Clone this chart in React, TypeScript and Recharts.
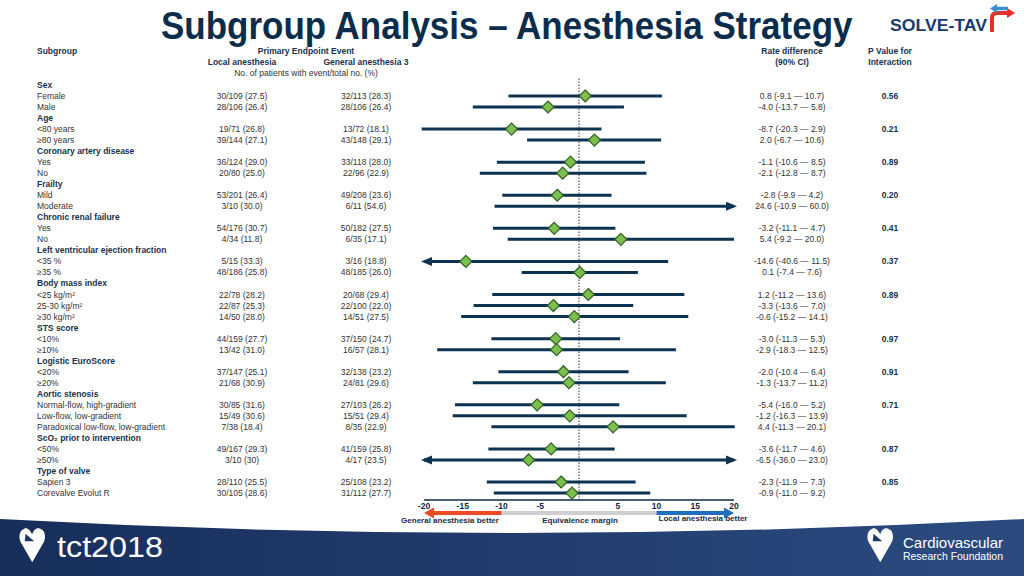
import React from "react";
import { ComposedChart, XAxis, YAxis, Scatter, ReferenceLine } from "recharts";

const FONT = "'Liberation Sans', Arial, Helvetica, sans-serif";
const NAVY = "#0c3352";
const TEXT = "#333333";
const HEAD = "#17324f";

// plot frame (chart margins are built from this)
const PLOT = { left: 424, right: 734, top: 78, bottom: 500 };
const X_DOMAIN: [number, number] = [-20, 20];
const Y_DOMAIN: [number, number] = [-0.63, 37.63];
const xTicks = [-20, -15, -10, -5, 5, 10, 15, 20];
// CIs only get an arrow when they run clearly past the axis
const ARROW_TOL = 1;

const rowLabels = [
  "Sex", "Female", "Male",
  "Age", "<80 years", "≥80 years",
  "Coronary artery disease", "Yes", "No",
  "Frailty", "Mild", "Moderate",
  "Chronic renal failure", "Yes", "No",
  "Left ventricular ejection fraction", "<35 %", "≥35 %",
  "Body mass index", "<25 kg/m²", "25-30 kg/m²", "≥30 kg/m²",
  "STS score", "<10%", "≥10%",
  "Logistic EuroScore", "<20%", "≥20%",
  "Aortic stenosis", "Normal-flow, high-gradient", "Low-flow, low-gradient", "Paradoxical low-flow, low-gradient",
  "ScO₂ prior to intervention", "<50%", "≥50%",
  "Type of valve", "Sapien 3", "Corevalve Evolut R",
];
const headerRows = [0, 3, 6, 9, 12, 15, 18, 22, 25, 28, 32, 35];
const pValues = ["0.56", "0.21", "0.89", "0.20", "0.41", "0.37", "0.89", "0.97", "0.91", "0.71", "0.87", "0.85"];

const localEvents = [
  "30/109 (27.5)", "28/106 (26.4)", "19/71 (26.8)", "39/144 (27.1)", "36/124 (29.0)", "20/80 (25.0)",
  "53/201 (26.4)", "3/10 (30.0)", "54/176 (30.7)", "4/34 (11.8)", "5/15 (33.3)", "48/186 (25.8)",
  "22/78 (28.2)", "22/87 (25.3)", "14/50 (28.0)", "44/159 (27.7)", "13/42 (31.0)", "37/147 (25.1)",
  "21/68 (30.9)", "30/85 (31.6)", "15/49 (30.6)", "7/38 (18.4)", "49/167 (29.3)", "3/10 (30)",
  "28/110 (25.5)", "30/105 (28.6)",
];
const generalEvents = [
  "32/113 (28.3)", "28/106 (26.4)", "13/72 (18.1)", "43/148 (29.1)", "33/118 (28.0)", "22/96 (22.9)",
  "49/208 (23.6)", "6/11 (54.6)", "50/182 (27.5)", "6/35 (17.1)", "3/16 (18.8)", "48/185 (26.0)",
  "20/68 (29.4)", "22/100 (22.0)", "14/51 (27.5)", "37/150 (24.7)", "16/57 (28.1)", "32/138 (23.2)",
  "24/81 (29.6)", "27/103 (26.2)", "15/51 (29.4)", "8/35 (22.9)", "41/159 (25.8)", "4/17 (23.5)",
  "25/108 (23.2)", "31/112 (27.7)",
];
const rateDiff = [0.8, -4.0, -8.7, 2.0, -1.1, -2.1, -2.8, 24.6, -3.2, 5.4, -14.6, 0.1, 1.2, -3.3, -0.6, -3.0, -2.9, -2.0, -1.3, -5.4, -1.2, 4.4, -3.6, -6.5, -2.3, -0.9];
const ciLower = [-9.1, -13.7, -20.3, -6.7, -10.6, -12.8, -9.9, -10.9, -11.1, -9.2, -40.6, -7.4, -11.2, -13.6, -15.2, -11.3, -18.3, -10.4, -13.7, -16.0, -16.3, -11.3, -11.7, -36.0, -11.9, -11.0];
const ciUpper = [10.7, 5.8, 2.9, 10.6, 8.5, 8.7, 4.2, 60.0, 4.7, 20.0, 11.5, 7.6, 13.6, 7.0, 14.1, 5.3, 12.5, 6.4, 11.2, 5.2, 13.9, 20.1, 4.6, 23.0, 7.3, 9.2];

const dataRows = rowLabels.map((_, i) => i).filter((i) => !headerRows.includes(i));
const fmt = (v: number) => v.toFixed(1);
const lowOver = (v: number) => v < X_DOMAIN[0] - ARROW_TOL;
const highOver = (v: number) => v > X_DOMAIN[1] + ARROW_TOL;
const segLo = (v: number) => (lowOver(v) ? X_DOMAIN[0] : v);
const segHi = (v: number) => (highOver(v) ? X_DOMAIN[1] : v);

const estimates = dataRows
  .map((row, k) => ({ x: rateDiff[k], y: row }))
  .filter((d) => d.x >= X_DOMAIN[0] && d.x <= X_DOMAIN[1]);
const overflowArrows = dataRows.flatMap((row, k) => {
  const out: { x: number; y: number; dir: number }[] = [];
  if (lowOver(ciLower[k])) out.push({ x: X_DOMAIN[0], y: row, dir: -1 });
  if (highOver(ciUpper[k])) out.push({ x: X_DOMAIN[1], y: row, dir: 1 });
  return out;
});

const yOf = (row: number) =>
  PLOT.top + ((row - Y_DOMAIN[0]) / (Y_DOMAIN[1] - Y_DOMAIN[0])) * (PLOT.bottom - PLOT.top);
const xOf = (v: number) =>
  PLOT.left + ((v - X_DOMAIN[0]) / (X_DOMAIN[1] - X_DOMAIN[0])) * (PLOT.right - PLOT.left);

const Diamond = (props: any) => {
  const { cx, cy } = props;
  const r = 6;
  return (
    <path
      d={`M${cx},${cy - r}L${cx + r},${cy}L${cx},${cy + r}L${cx - r},${cy}Z`}
      fill="#7dbf4e"
      stroke="#2d6222"
      strokeWidth={1.2}
    />
  );
};

const ArrowHead = (props: any) => {
  const { cx, cy, payload } = props;
  const d = payload.dir;
  const tip = cx + d * 3;
  const base = cx - d * 8;
  return <path d={`M${tip},${cy}L${base},${cy - 4.5}L${base},${cy + 4.5}Z`} fill={NAVY} />;
};

const HeartIcon = ({ x, y, s }: { x: number; y: number; s: number }) => (
  <g transform={`translate(${x},${y}) scale(${s})`}>
    <path d="M6,2C1,4 0,12 4,18L15,37L26,18C30,12 29,4 24,2C20,0 16,3 15,8C13,3 9,0 6,2Z" fill="#fff" />
    <path d="M8,7L17,15L7,15Z" fill="#1d3765" />
  </g>
);

export default function App() {
  const t = (x: number, y: number, s: string, o: any = {}) => (
    <text x={x} y={y} fontFamily={FONT} fontSize={8.5} fill={TEXT} dominantBaseline="central" {...o}>
      {s}
    </text>
  );

  return (
    <div style={{ position: "absolute", left: 0, top: 0, width: 1024, height: 576, background: "#fff" }}>
      <ComposedChart
        width={1024}
        height={576}
        margin={{ top: PLOT.top, right: 1024 - PLOT.right, bottom: 576 - PLOT.bottom - 20, left: PLOT.left }}
      >
        <XAxis
          type="number"
          dataKey="x"
          domain={X_DOMAIN}
          ticks={xTicks}
          interval={0}
          height={20}
          tickSize={0}
          tickMargin={3}
          tickLine={false}
          axisLine={{ stroke: "#0c2a45", strokeWidth: 1.5 }}
          tick={{ fill: "#0c2a45", fontSize: 8.5, fontWeight: "bold", fontFamily: FONT }}
        />
        <YAxis type="number" dataKey="y" domain={Y_DOMAIN} reversed hide width={0} />
        <ReferenceLine x={0} stroke="#333" strokeDasharray="1.5 1.5" strokeWidth={1} />
        {dataRows.map((row, k) => (
          <ReferenceLine
            key={row}
            segment={[
              { x: segLo(ciLower[k]), y: row },
              { x: segHi(ciUpper[k]), y: row },
            ]}
            stroke={NAVY}
            strokeWidth={3}
            ifOverflow="visible"
          />
        ))}
        <Scatter data={overflowArrows} shape={ArrowHead} isAnimationActive={false} />
        <Scatter data={estimates} shape={Diamond} isAnimationActive={false} />
      </ComposedChart>

      <svg
        width={1024}
        height={576}
        style={{ position: "absolute", left: 0, top: 0, pointerEvents: "none" }}
      >
        <defs>
          <linearGradient id="band" x1="0" x2="1" y1="0" y2="0">
            <stop offset="0" stopColor="#172e5a" />
            <stop offset="1" stopColor="#2b4b80" />
          </linearGradient>
        </defs>

        {/* bottom banner */}
        <path d="M0,519 Q512,547 1024,519 L1024,576 L0,576 Z" fill="url(#band)" />
        <HeartIcon x={18} y={527} s={0.95} />
        <text x={57} y={557} fontFamily={FONT} fontSize={29} fill="#fff" textLength={106} lengthAdjust="spacingAndGlyphs">
          tct2018
        </text>
        <HeartIcon x={866} y={527} s={0.95} />
        <text x={903} y={548} fontFamily={FONT} fontSize={15} fill="#fff" textLength={100} lengthAdjust="spacingAndGlyphs">
          Cardiovascular
        </text>
        <text x={903} y={560} fontFamily={FONT} fontSize={11} fill="#fff" textLength={100} lengthAdjust="spacingAndGlyphs">
          Research Foundation
        </text>

        {/* title and logo */}
        <g transform="translate(161,39) scale(1,1.09)">
          <text x={0} y={0} fontFamily={FONT} fontWeight="bold" fontSize={35} fill="#0b2d4c">
            Subgroup Analysis – Anesthesia Strategy
          </text>
        </g>
        <text x={890} y={31} fontFamily={FONT} fontWeight="bold" fontSize={17} fill="#1b3a6c" textLength={97} lengthAdjust="spacingAndGlyphs">
          SOLVE-TAV
        </text>
        <path d="M992,32 L992,18 Q992,13 997,13 L1008,13" stroke="#e2302b" strokeWidth={4} fill="none" />
        <path d="M1007,8 L1015,13 L1007,18 Z" fill="#e2302b" />
        <path d="M1008,8.5 L996,8.5" stroke="#3d8fd3" strokeWidth={3.5} fill="none" />
        <path d="M997,4 L990,8.5 L997,13 Z" fill="#3d8fd3" />

        {/* column headers */}
        {t(37, 51, "Subgroup", { fontWeight: "bold", fill: HEAD })}
        {t(306, 51, "Primary Endpoint Event", { fontWeight: "bold", fill: HEAD, textAnchor: "middle" })}
        {t(242, 62, "Local anesthesia", { fontWeight: "bold", fill: HEAD, textAnchor: "middle" })}
        {t(366, 62, "General anesthesia 3", { fontWeight: "bold", fill: HEAD, textAnchor: "middle" })}
        {t(306, 73, "No. of patients with event/total no. (%)", { textAnchor: "middle" })}
        {t(792, 51, "Rate difference", { fontWeight: "bold", fill: HEAD, textAnchor: "middle" })}
        {t(792, 62, "(90% CI)", { fontWeight: "bold", fill: HEAD, textAnchor: "middle" })}
        {t(890, 51, "P Value for", { fontWeight: "bold", fill: HEAD, textAnchor: "middle" })}
        {t(890, 62, "Interaction", { fontWeight: "bold", fill: HEAD, textAnchor: "middle" })}

        {/* table rows */}
        {rowLabels.map((lab, i) =>
          headerRows.includes(i)
            ? <React.Fragment key={i}>{t(37, yOf(i), lab, { fontWeight: "bold", fill: HEAD })}</React.Fragment>
            : <React.Fragment key={i}>{t(37, yOf(i), lab)}</React.Fragment>
        )}
        {dataRows.map((row, k) => (
          <React.Fragment key={"d" + row}>
            {t(242, yOf(row), localEvents[k], { textAnchor: "middle" })}
            {t(366, yOf(row), generalEvents[k], { textAnchor: "middle" })}
            {t(792, yOf(row), `${fmt(rateDiff[k])} (${fmt(ciLower[k])} — ${fmt(ciUpper[k])})`, { textAnchor: "middle" })}
          </React.Fragment>
        ))}
        {headerRows.map((h, g) => (
          <React.Fragment key={"p" + h}>
            {t(890, yOf(h + 1), pValues[g], { fontWeight: "bold", fill: HEAD, textAnchor: "middle" })}
          </React.Fragment>
        ))}

        {/* direction legend */}
        <line x1={xOf(-10)} y1={513} x2={xOf(10)} y2={513} stroke="#cfcfcf" strokeWidth={4} />
        <line x1={xOf(-10)} y1={513} x2={xOf(-20) + 8} y2={513} stroke="#ee4a24" strokeWidth={4} />
        <path d={`M${xOf(-20)},513 L${xOf(-20) + 10},507.5 L${xOf(-20) + 10},518.5 Z`} fill="#ee4a24" />
        <line x1={xOf(10)} y1={513} x2={xOf(20) - 8} y2={513} stroke="#1f6fc0" strokeWidth={4} />
        <path d={`M${xOf(20)},513 L${xOf(20) - 10},507.5 L${xOf(20) - 10},518.5 Z`} fill="#1f6fc0" />
        {t(450, 520, "General anesthesia better", { fontWeight: "bold", fill: "#1a2b44", textAnchor: "middle", fontSize: 8 })}
        {t(580, 520, "Equivalence margin", { fontWeight: "bold", fill: "#1a2b44", textAnchor: "middle", fontSize: 8 })}
        {t(703, 518, "Local anesthesia better", { fontWeight: "bold", fill: "#1a2b44", textAnchor: "middle", fontSize: 8 })}
      </svg>
    </div>
  );
}
